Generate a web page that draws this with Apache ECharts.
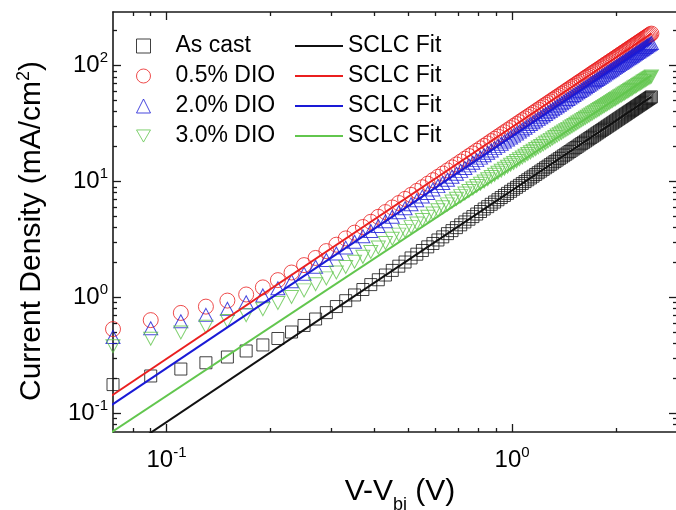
<!DOCTYPE html>
<html>
<head>
<meta charset="utf-8">
<script src="https://cdn.jsdelivr.net/npm/echarts@6.0.0/dist/echarts.min.js"></script>
<style>
  html, body { margin: 0; padding: 0; background: #fff; }
  #chart { width: 676px; height: 510px; }
</style>
</head>
<body>
<div id="chart"></div>
<script>
// V - Vbi (V), same sweep for all four films
const volts = [
  0.07, 0.09, 0.11, 0.13, 0.15, 0.17, 0.19, 0.21, 0.23, 0.25,
  0.27, 0.29, 0.31, 0.33, 0.35, 0.37, 0.39, 0.41, 0.43, 0.45,
  0.47, 0.49, 0.51, 0.53, 0.55, 0.57, 0.59, 0.61, 0.63, 0.65,
  0.67, 0.69, 0.71, 0.73, 0.75, 0.77, 0.79, 0.81, 0.83, 0.85,
  0.87, 0.89, 0.91, 0.93, 0.95, 0.97, 0.99, 1.01, 1.03, 1.05,
  1.07, 1.09, 1.11, 1.13, 1.15, 1.17, 1.19, 1.21, 1.23, 1.25,
  1.27, 1.29, 1.31, 1.33, 1.35, 1.37, 1.39, 1.41, 1.43, 1.45,
  1.47, 1.49, 1.51, 1.53, 1.55, 1.57, 1.59, 1.61, 1.63, 1.65,
  1.67, 1.69, 1.71, 1.73, 1.75, 1.77, 1.79, 1.81, 1.83, 1.85,
  1.87, 1.89, 1.91, 1.93, 1.95, 1.97, 1.99, 2.01, 2.03, 2.05,
  2.07, 2.09, 2.11, 2.13, 2.15, 2.17, 2.19, 2.21, 2.23, 2.25,
  2.27, 2.29, 2.31, 2.33, 2.35, 2.37, 2.39, 2.41, 2.43, 2.45,
  2.47, 2.49, 2.51, 2.53
];

// current density (mA/cm2)
const asCast = [
  0.177, 0.210, 0.241, 0.273, 0.306, 0.345, 0.389, 0.442, 0.503, 0.573,
  0.651, 0.739, 0.834, 0.937, 1.05, 1.17, 1.29, 1.42, 1.56, 1.71,
  1.86, 2.02, 2.19, 2.36, 2.54, 2.73, 2.92, 3.13, 3.33, 3.55,
  3.77, 4.00, 4.23, 4.48, 4.73, 4.98, 5.24, 5.51, 5.79, 6.07,
  6.36, 6.65, 6.96, 7.27, 7.58, 7.90, 8.23, 8.57, 8.91, 9.26,
  9.62, 9.98, 10.35, 10.73, 11.11, 11.50, 11.90, 12.30, 12.71, 13.13,
  13.55, 13.98, 14.42, 14.86, 15.31, 15.77, 16.23, 16.70, 17.18, 17.66,
  18.15, 18.65, 19.15, 19.66, 20.18, 20.71, 21.24, 21.77, 22.32, 22.87,
  23.43, 23.99, 24.56, 25.14, 25.73, 26.32, 26.91, 27.52, 28.13, 28.75,
  29.37, 30.01, 30.64, 31.29, 31.94, 32.60, 33.26, 33.94, 34.62, 35.30,
  35.99, 36.69, 37.40, 38.11, 38.83, 39.55, 40.29, 41.03, 41.77, 42.53,
  43.28, 44.05, 44.82, 45.60, 46.39, 47.18, 47.98, 48.79, 49.60, 50.42,
  51.25, 52.08, 52.92, 53.77
];
const dio05 = [
  0.533, 0.637, 0.735, 0.833, 0.939, 1.06, 1.22, 1.41, 1.64, 1.90,
  2.19, 2.51, 2.85, 3.23, 3.62, 4.05, 4.49, 4.96, 5.45, 5.97,
  6.52, 7.08, 7.67, 8.29, 8.92, 9.58, 10.27, 10.98, 11.71, 12.46,
  13.24, 14.04, 14.87, 15.72, 16.59, 17.49, 18.41, 19.35, 20.32, 21.31,
  22.33, 23.37, 24.43, 25.51, 26.62, 27.76, 28.91, 30.09, 31.30, 32.52,
  33.77, 35.05, 36.35, 37.67, 39.01, 40.38, 41.77, 43.19, 44.63, 46.09,
  47.58, 49.09, 50.62, 52.18, 53.76, 55.37, 57.00, 58.65, 60.32, 62.02,
  63.75, 65.49, 67.26, 69.06, 70.87, 72.71, 74.58, 76.47, 78.38, 80.31,
  82.27, 84.25, 86.26, 88.29, 90.34, 92.42, 94.52, 96.64, 98.79, 101.0,
  103.2, 105.4, 107.6, 109.9, 112.2, 114.5, 116.8, 119.2, 121.6, 124.0,
  126.4, 128.9, 131.3, 133.8, 136.4, 138.9, 141.5, 144.1, 146.7, 149.3,
  152.0, 154.7, 157.4, 160.2, 162.9, 165.7, 168.5, 171.3, 174.2, 177.1,
  180.0, 182.9, 185.9, 188.8
];
const dio20 = [
  0.456, 0.541, 0.623, 0.707, 0.799, 0.907, 1.04, 1.20, 1.38, 1.60,
  1.84, 2.10, 2.39, 2.69, 3.02, 3.37, 3.74, 4.13, 4.54, 4.97,
  5.42, 5.88, 6.37, 6.88, 7.41, 7.96, 8.53, 9.12, 9.72, 10.35,
  11.00, 11.66, 12.35, 13.06, 13.78, 14.53, 15.29, 16.07, 16.88, 17.70,
  18.54, 19.41, 20.29, 21.19, 22.11, 23.05, 24.01, 24.99, 25.99, 27.01,
  28.05, 29.11, 30.19, 31.28, 32.40, 33.54, 34.69, 35.87, 37.07, 38.28,
  39.52, 40.77, 42.04, 43.34, 44.65, 45.98, 47.34, 48.71, 50.10, 51.51,
  52.94, 54.39, 55.86, 57.35, 58.86, 60.39, 61.94, 63.51, 65.09, 66.70,
  68.33, 69.97, 71.64, 73.33, 75.03, 76.76, 78.50, 80.26, 82.05, 83.85,
  85.67, 87.52, 89.38, 91.26, 93.16, 95.08, 97.02, 98.98, 101.0, 103.0,
  105.0, 107.0, 109.1, 111.2, 113.3, 115.4, 117.5, 119.7, 121.8, 124.0,
  126.3, 128.5, 130.7, 133.0, 135.3, 137.6, 140.0, 142.3, 144.7, 147.1,
  149.5, 151.9, 154.4, 156.8
];
const dio30 = [
  0.379, 0.440, 0.499, 0.559, 0.626, 0.702, 0.791, 0.895, 1.01, 1.15,
  1.30, 1.46, 1.64, 1.83, 2.03, 2.24, 2.47, 2.70, 2.95, 3.21,
  3.48, 3.75, 4.04, 4.34, 4.65, 4.97, 5.30, 5.64, 5.99, 6.35,
  6.72, 7.09, 7.48, 7.88, 8.29, 8.71, 9.14, 9.58, 10.02, 10.48,
  10.95, 11.42, 11.91, 12.40, 12.90, 13.41, 13.94, 14.47, 15.01, 15.56,
  16.12, 16.68, 17.26, 17.85, 18.44, 19.05, 19.66, 20.28, 20.91, 21.55,
  22.20, 22.86, 23.53, 24.20, 24.89, 25.58, 26.29, 27.00, 27.72, 28.45,
  29.19, 29.93, 30.69, 31.45, 32.23, 33.01, 33.80, 34.60, 35.41, 36.22,
  37.05, 37.88, 38.73, 39.58, 40.44, 41.31, 42.18, 43.07, 43.96, 44.86,
  45.77, 46.69, 47.62, 48.56, 49.51, 50.46, 51.42, 52.39, 53.37, 54.36,
  55.35, 56.36, 57.37, 58.39, 59.42, 60.46, 61.51, 62.56, 63.62, 64.70,
  65.77, 66.86, 67.96, 69.06, 70.17, 71.30, 72.43, 73.57, 74.71, 75.86,
  77.03, 78.20, 79.38, 80.56
];

// SCLC fit lines, end points
const fitVolts = [0.05, 2.53];
const fitAsCast = [0.021, 53.77];
const fit05 = [0.0738, 188.8];
const fit20 = [0.0613, 156.8];
const fit30 = [0.0361, 82.3];

const xMajor = [0.1, 1];
const xMinor = [0.08, 0.09, 0.2, 0.3, 0.4, 0.5, 0.6, 0.7, 0.8, 0.9, 2, 3];
const yMajor = [0.1, 1, 10, 100];
const yMinor = [0.08, 0.09, 0.2, 0.3, 0.4, 0.5, 0.6, 0.7, 0.8, 0.9,
  2, 3, 4, 5, 6, 7, 8, 9, 20, 30, 40, 50, 60, 70, 80, 90, 200];

const FONT = '"Liberation Sans", Arial, Helvetica, sans-serif';
const AXIS_COLOR = '#1a1a1a';
const BLACK = '#111111', RED = '#ea1f1f', BLUE = '#1a1ad6', GREEN = '#62c64e';
const DOWN_TRI = 'path://M0,0 L10,0 L5,8.66 Z';

const chart = echarts.init(document.getElementById('chart'));

function pairs(xs, ys) {
  return xs.map((x, i) => [x, ys[i]]);
}

function powLabel(v) {
  const e = Math.round(Math.log10(v));
  return '{b|10}{s|' + e + '}';
}

const labelRich = {
  b: { fontSize: 24, fontFamily: FONT, color: '#000', lineHeight: 30 },
  s: { fontSize: 15, fontFamily: FONT, color: '#000', lineHeight: 15, verticalAlign: 'top' }
};

// one log axis per side for the major ticks, one more for the minor ticks
function logAxis(dim, position, ticks, major, withLabels) {
  const isX = dim === 'x';
  return {
    type: 'log',
    logBase: 10,
    position: position,
    min: isX ? 0.07 : 0.069,
    max: isX ? 3 : 290,
    axisLine: { show: major, onZero: false, lineStyle: { color: AXIS_COLOR, width: 1.6 } },
    axisTick: {
      show: true,
      inside: true,
      customValues: ticks,
      length: major ? 8 : 4,
      lineStyle: { color: AXIS_COLOR, width: 1.3 }
    },
    minorTick: { show: false },
    splitLine: { show: false },
    axisLabel: withLabels ? {
      show: true,
      customValues: ticks,
      margin: isX ? 13 : 5,
      formatter: powLabel,
      rich: labelRich
    } : { show: false }
  };
}

const xBottom = logAxis('x', 'bottom', xMajor, true, true);
xBottom.name = '{n|V-V}{sub|bi}{n| (V)}';
xBottom.nameLocation = 'middle';
xBottom.nameGap = 37;
xBottom.nameTextStyle = {
  padding: [0, 0, 0, 10],
  rich: {
    n: { fontSize: 30, fontFamily: FONT, color: '#000', lineHeight: 34 },
    sub: { fontSize: 18, fontFamily: FONT, color: '#000', verticalAlign: 'bottom', lineHeight: 18, padding: [0, 0, -5, 0] }
  }
};

const yLeft = logAxis('y', 'left', yMajor, true, true);
yLeft.name = '{n|Current Density (mA/cm}{sup|2}{n|)}';
yLeft.nameLocation = 'middle';
yLeft.nameGap = 64;
yLeft.nameTextStyle = {
  padding: [0, 18, 0, 0],
  rich: {
    n: { fontSize: 30, fontFamily: FONT, color: '#000', lineHeight: 34 },
    sup: { fontSize: 18, fontFamily: FONT, color: '#000', verticalAlign: 'top', lineHeight: 18 }
  }
};

function scatterSeries(name, data, symbol, size, color) {
  return {
    name: name,
    type: 'scatter',
    data: pairs(volts, data),
    symbol: symbol,
    symbolSize: size,
    itemStyle: { color: 'rgba(0,0,0,0)', borderColor: color, borderWidth: 1 },
    z: 2
  };
}

function fitSeries(name, data, color) {
  return {
    name: name,
    type: 'line',
    data: pairs(fitVolts, data),
    symbol: 'none',
    clip: true,
    lineStyle: { color: color, width: 2 },
    itemStyle: { color: color },
    z: 3
  };
}

const legendText = { fontSize: 23, fontFamily: FONT, color: '#000', lineHeight: 24 };

function hollow(color) {
  return { color: 'rgba(0,0,0,0)', borderColor: color, borderWidth: 1 };
}

chart.setOption({
  animation: false,
  backgroundColor: '#fff',
  grid: { left: 113, right: -1, top: 12, bottom: 78, outerBoundsMode: 'none', containLabel: false },
  xAxis: [
    xBottom,
    logAxis('x', 'bottom', xMinor, false, false),
    logAxis('x', 'top', xMajor, true, false),
    logAxis('x', 'top', xMinor, false, false)
  ],
  yAxis: [
    yLeft,
    logAxis('y', 'left', yMinor, false, false),
    logAxis('y', 'right', yMajor, true, false),
    logAxis('y', 'right', yMinor, false, false)
  ],
  legend: [
    {
      orient: 'vertical',
      left: 136,
      top: 34,
      padding: 0,
      itemWidth: 14,
      itemHeight: 14,
      itemGap: 6,
      textStyle: Object.assign({ padding: [0, 0, 0, 20] }, legendText),
      data: [
        { name: 'As cast', icon: 'rect', itemStyle: hollow(BLACK) },
        { name: '0.5% DIO', icon: 'circle', itemStyle: hollow(RED) },
        { name: '2.0% DIO', icon: 'triangle', itemStyle: hollow(BLUE) },
        { name: '3.0% DIO', icon: DOWN_TRI, itemStyle: hollow(GREEN) }
      ]
    },
    {
      orient: 'vertical',
      left: 295,
      top: 34,
      padding: 0,
      icon: 'rect',
      itemWidth: 48,
      itemHeight: 2,
      itemGap: 6,
      textStyle: legendText,
      formatter: function () { return 'SCLC Fit'; },
      data: ['fit As cast', 'fit 0.5%', 'fit 2.0%', 'fit 3.0%']
    }
  ],
  series: [
    scatterSeries('As cast', asCast, 'rect', 12, BLACK),
    scatterSeries('0.5% DIO', dio05, 'circle', 15, RED),
    scatterSeries('2.0% DIO', dio20, 'triangle', [14, 13], BLUE),
    scatterSeries('3.0% DIO', dio30, DOWN_TRI, [14, 13], GREEN),
    fitSeries('fit As cast', fitAsCast, BLACK),
    fitSeries('fit 0.5%', fit05, RED),
    fitSeries('fit 2.0%', fit20, BLUE),
    fitSeries('fit 3.0%', fit30, GREEN)
  ]
});
</script>
</body>
</html>
